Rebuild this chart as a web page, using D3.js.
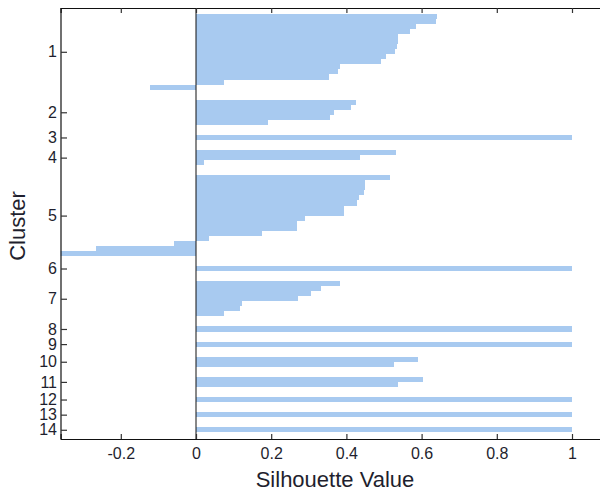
<!DOCTYPE html>
<html>
<head>
<meta charset="utf-8">
<script src="https://cdn.jsdelivr.net/npm/d3@7"></script>
<style>
  body { margin: 0; background: #fff; }
  text { font-family: "Liberation Sans", Arial, sans-serif; fill: #1f1f2e; }
</style>
</head>
<body>
<div id="chart-area"></div>
<script>
// silhouette values per cluster, sorted descending as in the plot
var clusterLabels = ["1", "2", "3", "4", "5", "6", "7", "8", "9", "10", "11", "12", "13", "14"];
var clusterValues = [
  [0.642, 0.638, 0.585, 0.569, 0.538, 0.538, 0.534, 0.530, 0.506, 0.491, 0.383, 0.378, 0.355, 0.075, -0.122],
  [0.426, 0.413, 0.367, 0.357, 0.192],
  [1],
  [0.531, 0.437, 0.022],
  [0.516, 0.450, 0.450, 0.447, 0.433, 0.427, 0.393, 0.393, 0.290, 0.269, 0.269, 0.176, 0.035, -0.058, -0.266, -0.40],
  [1],
  [0.384, 0.333, 0.307, 0.272, 0.122, 0.118, 0.075],
  [1],
  [1],
  [0.591, 0.527],
  [0.604, 0.537],
  [1],
  [1],
  [1]
];
var xTicks = [-0.2, 0, 0.2, 0.4, 0.6, 0.8, 1];
var xTickLabels = ["-0.2", "0", "0.2", "0.4", "0.6", "0.8", "1"];
var gapRows = 2;

var width = 600;
var height = 492;
var plotLeft = 61, plotTop = 8, plotBottom = 439;

var svg = d3.select("#chart-area").append("svg").attr("width", width).attr("height", height);

// lay out bar rows like matlab: leading gap, then each cluster followed by a gap
var rows = [];
var ticks = [];
var pos = gapRows;
clusterValues.forEach((vals, ci) => {
  var first = pos + 1;
  vals.forEach((v) => { pos += 1; rows.push({row: pos, value: v}); });
  ticks.push({label: clusterLabels[ci], row: (first + pos) / 2});
  pos += gapRows;
});

var x = d3.scaleLinear().domain([-0.36, 1.08]).range([196 - 0.36 * 376, 196 + 1.08 * 376]);
var y = d3.scaleLinear().domain([1.31, 86.83]).range([plotTop, plotBottom]);

svg.append("clipPath").attr("id", "clip").append("rect")
  .attr("x", x(-0.36)).attr("y", plotTop).attr("width", x(1.08) - x(-0.36)).attr("height", plotBottom - plotTop);

var g = svg.append("g").attr("clip-path", "url(#clip)");

g.selectAll("rect.bar").data(rows).enter().append("rect").attr("class", "bar")
  .attr("x", (d) => { return x(Math.min(0, d.value)); })
  .attr("y", (d) => { return y(d.row - 0.5); })
  .attr("width", (d) => { return Math.abs(x(d.value) - x(0)); })
  .attr("height", (d) => { return y(d.row + 0.5) - y(d.row - 0.5); })
  .attr("fill", "#a8caf0").attr("shape-rendering", "crispEdges");

// zero baseline
svg.append("line").attr("x1", x(0)).attr("x2", x(0)).attr("y1", plotTop).attr("y2", plotBottom)
  .attr("stroke", "#111").attr("stroke-width", 1);

// bottom axis, inward ticks
var bottomAxis = d3.axisBottom(x).tickValues(xTicks).tickSize(-5).tickPadding(9)
  .tickFormat((d, i) => { return xTickLabels[i]; });
var bx = svg.append("g").attr("class", "x axis").attr("transform", "translate(0," + plotBottom + ")").call(bottomAxis);
bx.selectAll("text").attr("font-size", "16px");

var topAxis = d3.axisTop(x).tickValues(xTicks).tickSize(-5).tickFormat("");
svg.append("g").attr("class", "top axis").attr("transform", "translate(0," + plotTop + ")").call(topAxis);

var leftAxis = d3.axisLeft(y).tickValues(ticks.map((d) => { return d.row; })).tickSize(-6).tickPadding(4)
  .tickFormat((d, i) => { return ticks[i].label; });
var ly = svg.append("g").attr("class", "y axis").attr("transform", "translate(" + plotLeft + ",0)").call(leftAxis);
ly.selectAll("text").attr("font-size", "16px");
ly.select(".domain").attr("d", "M0," + plotTop + "V" + plotBottom);

svg.selectAll(".axis .domain").attr("stroke", "#111").attr("stroke-width", 1.2);
svg.selectAll(".axis .tick line").attr("stroke", "#333").attr("stroke-width", 1.2);
svg.selectAll(".axis text").attr("font-family", "Liberation Sans, Arial, sans-serif").style("fill", "#1f1f2e");

svg.append("text").attr("x", 335).attr("y", 487).attr("font-size", "22px")
  .attr("text-anchor", "middle").text("Silhouette Value");

svg.append("text").attr("transform", "translate(25,226) rotate(-90)").attr("font-size", "22px")
  .attr("text-anchor", "middle").text("Cluster");
</script>
</body>
</html>
